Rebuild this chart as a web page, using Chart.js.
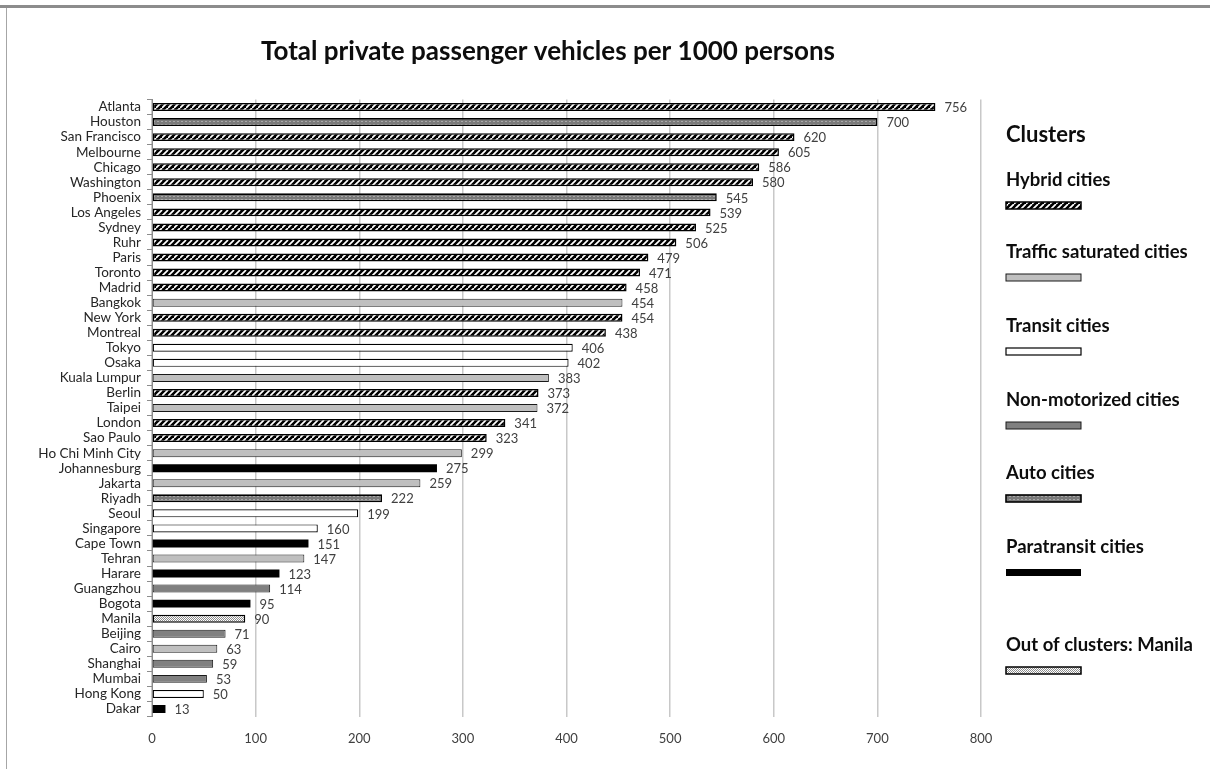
<!DOCTYPE html>
<html>
<head>
<meta charset="utf-8">
<script src="https://cdn.jsdelivr.net/npm/chart.js@4.4.1/dist/chart.umd.min.js"></script>
<style>
  html, body { margin: 0; padding: 0; background: #fff; }
  #wrap { position: relative; width: 1210px; height: 769px; overflow: hidden; }
  canvas { position: absolute; left: 0; top: 0; }
  #frameTop { position: absolute; left: 0; top: 5px; width: 1210px; height: 3px; background: #8c8c8c; }
  #frameLeft { position: absolute; left: 6px; top: 8px; width: 1px; height: 761px; background: #a6a6a6; }
</style>
</head>
<body>
<div id="wrap">
  <canvas id="chart" width="1210" height="769"></canvas>
  <div id="frameTop"></div>
  <div id="frameLeft"></div>
</div>
<script>
// Cities, top to bottom
const cities = [
  'Atlanta', 'Houston', 'San Francisco', 'Melbourne', 'Chicago', 'Washington', 'Phoenix',
  'Los Angeles', 'Sydney', 'Ruhr', 'Paris', 'Toronto', 'Madrid', 'Bangkok', 'New York',
  'Montreal', 'Tokyo', 'Osaka', 'Kuala Lumpur', 'Berlin', 'Taipei', 'London', 'Sao Paulo',
  'Ho Chi Minh City', 'Johannesburg', 'Jakarta', 'Riyadh', 'Seoul', 'Singapore', 'Cape Town',
  'Tehran', 'Harare', 'Guangzhou', 'Bogota', 'Manila', 'Beijing', 'Cairo', 'Shanghai',
  'Mumbai', 'Hong Kong', 'Dakar'
];

// Private passenger vehicles per 1000 persons
const vehicles = [
  756, 700, 620, 605, 586, 580, 545,
  539, 525, 506, 479, 471, 458, 454, 454,
  438, 406, 402, 383, 373, 372, 341, 323,
  299, 275, 259, 222, 199, 160, 151,
  147, 123, 114, 95, 90, 71, 63, 59,
  53, 50, 13
];

// Cluster of each city
const cityCluster = [
  'hybrid', 'auto', 'hybrid', 'hybrid', 'hybrid', 'hybrid', 'auto',
  'hybrid', 'hybrid', 'hybrid', 'hybrid', 'hybrid', 'hybrid', 'traffic', 'hybrid',
  'hybrid', 'transit', 'transit', 'traffic', 'hybrid', 'traffic', 'hybrid', 'hybrid',
  'traffic', 'para', 'traffic', 'auto', 'transit', 'transit', 'para',
  'traffic', 'para', 'nonmotor', 'para', 'outside', 'nonmotor', 'traffic', 'nonmotor',
  'nonmotor', 'transit', 'para'
];

// Legend entries
const clusterKeys = ['hybrid', 'traffic', 'transit', 'nonmotor', 'auto', 'para', 'outside'];
const clusterLabels = [
  'Hybrid cities', 'Traffic saturated cities', 'Transit cities', 'Non-motorized cities',
  'Auto cities', 'Paratransit cities', 'Out of clusters: Manila'
];

const xTicks = [0, 100, 200, 300, 400, 500, 600, 700, 800];

// ---- fill patterns ----
function makeTile(w, h, paint) {
  const c = document.createElement('canvas');
  c.width = w; c.height = h;
  paint(c.getContext('2d'), w, h);
  return c;
}
const tmpCtx = document.createElement('canvas').getContext('2d');

const hatchTile = makeTile(6, 6, (g, w, h) => {
  g.fillStyle = '#000'; g.fillRect(0, 0, w, h);
  g.strokeStyle = '#fff'; g.lineWidth = 1.7;
  g.beginPath();
  g.moveTo(0, h); g.lineTo(w, 0);
  g.moveTo(-w, h); g.lineTo(0, 0);
  g.moveTo(w, 2 * h); g.lineTo(2 * w, h);
  g.stroke();
});
const dotTile = makeTile(4, 3, (g, w, h) => {
  g.fillStyle = '#7a7a7a'; g.fillRect(0, 0, w, h);
  g.fillStyle = '#a8a8a8'; g.fillRect(1, 1, 2, 1);
});
const checkTile = makeTile(4, 4, (g, w, h) => {
  g.fillStyle = '#ffffff'; g.fillRect(0, 0, w, h);
  g.fillStyle = '#8c8c8c';
  g.fillRect(0, 0, 1, 1); g.fillRect(2, 0, 1, 1);
  g.fillRect(1, 1, 1, 1); g.fillRect(3, 1, 1, 1);
  g.fillRect(0, 2, 1, 1); g.fillRect(2, 2, 1, 1);
  g.fillRect(1, 3, 1, 1); g.fillRect(3, 3, 1, 1);
});

const clusterStyle = {
  hybrid:   { fill: tmpCtx.createPattern(hatchTile, 'repeat'), border: '#000', width: 1.5 },
  traffic:  { fill: '#bfbfbf', border: '#1a1a1a', width: 1 },
  transit:  { fill: '#ffffff', border: '#000', width: 1.2 },
  nonmotor: { fill: '#808080', border: '#1a1a1a', width: 1 },
  auto:     { fill: tmpCtx.createPattern(dotTile, 'repeat'), border: '#000', width: 1.6 },
  para:     { fill: '#000000', border: '#000', width: 0 },
  outside:  { fill: tmpCtx.createPattern(checkTile, 'repeat'), border: '#000', width: 1.5 }
};

const FONT = 'Lato, "Open Sans", sans-serif';

// Chart title
const chartTitle = {
  id: 'chartTitle',
  afterDraw(chart) {
    const { ctx } = chart;
    ctx.save();
    ctx.font = 'bold 26px ' + FONT;
    ctx.fillStyle = '#0d0d0d';
    ctx.textAlign = 'center';
    ctx.textBaseline = 'middle';
    ctx.fillText('Total private passenger vehicles per 1000 persons', 548, 52);
    ctx.restore();
  }
};

// Value printed after the end of each bar
const valueLabels = {
  id: 'valueLabels',
  afterDatasetsDraw(chart) {
    const { ctx } = chart;
    const meta = chart.getDatasetMeta(0);
    ctx.save();
    ctx.font = '13px ' + FONT;
    ctx.fillStyle = '#404040';
    ctx.textAlign = 'left';
    ctx.textBaseline = 'middle';
    meta.data.forEach((bar, i) => {
      ctx.fillText(String(vehicles[i]), bar.x + 9, bar.y + 1);
    });
    ctx.restore();
  }
};

// Cluster legend on the right
const clusterLegend = {
  id: 'clusterLegend',
  afterDraw(chart) {
    const { ctx } = chart;
    const x = 1006;
    const rows = [180, 252, 326, 400, 473, 547, 645];
    ctx.save();
    ctx.fillStyle = '#0d0d0d';
    ctx.textAlign = 'left';
    ctx.textBaseline = 'middle';
    ctx.font = 'bold 22px ' + FONT;
    ctx.fillText('Clusters', x, 135);
    ctx.font = 'bold 18.5px ' + FONT;
    clusterKeys.forEach((key, i) => {
      const y = rows[i];
      ctx.fillStyle = '#0d0d0d';
      ctx.fillText(clusterLabels[i], x, y);
      const st = clusterStyle[key];
      const sy = y + 22, sw = 75, sh = 7;
      ctx.fillStyle = st.fill;
      ctx.fillRect(x, sy, sw, sh);
      if (st.width > 0) {
        ctx.lineWidth = st.width;
        ctx.strokeStyle = st.border;
        ctx.strokeRect(x, sy, sw, sh);
      }
    });
    ctx.restore();
  }
};

new Chart(document.getElementById('chart'), {
  type: 'bar',
  data: {
    labels: cities,
    datasets: [{
      data: vehicles,
      backgroundColor: cityCluster.map(k => clusterStyle[k].fill),
      borderColor: cityCluster.map(k => clusterStyle[k].border),
      borderWidth: cityCluster.map(k => clusterStyle[k].width),
      borderSkipped: false,
      categoryPercentage: 1.0,
      barPercentage: 0.53
    }]
  },
  options: {
    indexAxis: 'y',
    responsive: false,
    animation: false,
    events: [],
    layout: { padding: { top: 99.5, right: 229, bottom: 12.5, left: 0 } },
    plugins: {
      legend: { display: false },
      title: { display: false },
      tooltip: { enabled: false }
    },
    scales: {
      x: {
        min: 0,
        max: 800,
        afterBuildTicks(scale) { scale.ticks = xTicks.map(v => ({ value: v })); },
        afterFit(scale) { scale.height = 40; },
        grid: { color: '#c8c8c8', lineWidth: 1.5, drawTicks: false },
        border: { display: false },
        ticks: { color: '#404040', font: { family: FONT, size: 13 }, padding: 15 }
      },
      y: {
        afterFit(scale) { scale.width = 152; },
        grid: { display: true, drawOnChartArea: false, offset: true, tickLength: 5, color: '#8c8c8c' },
        border: { display: true, color: '#8c8c8c', width: 1 },
        ticks: { color: '#262626', font: { family: FONT, size: 13.5 }, padding: 6, autoSkip: false }
      }
    }
  },
  plugins: [chartTitle, valueLabels, clusterLegend]
});
</script>
</body>
</html>
